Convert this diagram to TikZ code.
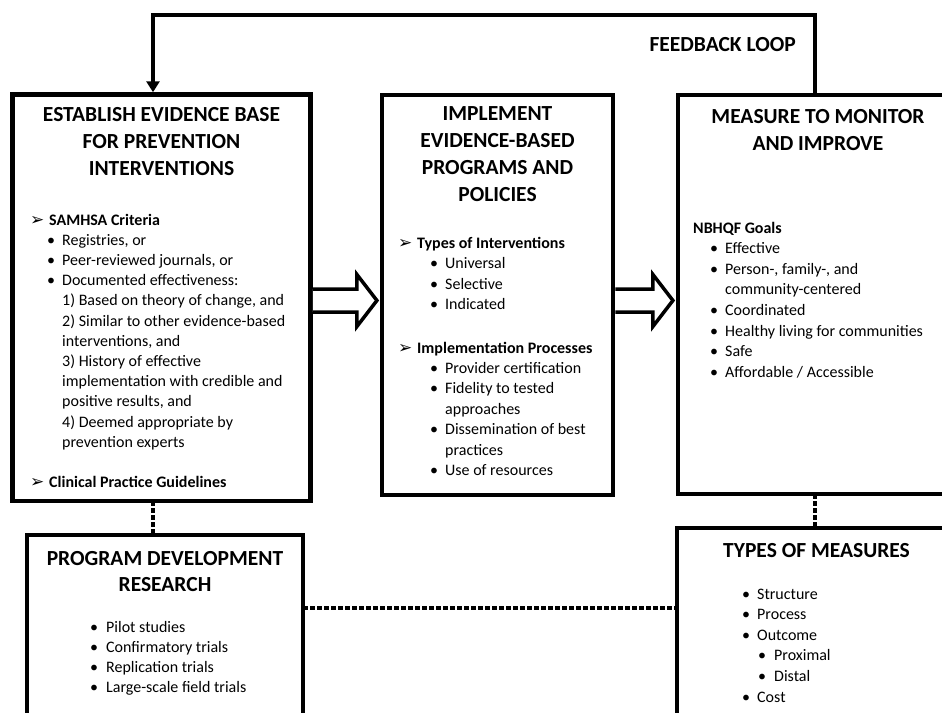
\documentclass[tikz,border=0pt]{standalone}
\usepackage{fontspec}
\setmainfont{Carlito}
\newfontfamily\dingfont{DejaVu Sans}
\usetikzlibrary{arrows.meta,calc}

% list helpers: indent, then a bullet in a box of given width
\newcommand\bul[2]{\hspace*{#1pt}\makebox[#2pt][l]{\textbullet}}
% arrowhead marker for section headings
\newcommand\mkr[1]{\makebox[#1pt][l]{\raisebox{-0.3pt}{\dingfont\fontsize{17}{17}\selectfont\symbol{"27A2}}}}

\begin{document}
\begin{tikzpicture}[x=1pt,y=-1pt,
  frame/.style={draw=black, line width=4.5pt, inner sep=0pt, outer sep=0pt, anchor=north west},
  heading/.style={anchor=base, align=center, inner sep=0pt, font=\fontsize{21.5}{27}\selectfont\bfseries},
  bodytext/.style={anchor=base west, align=left, inner sep=0pt, font=\fontsize{16}{20.4}\selectfont},
  feedback/.style={draw=black, line width=4pt, line join=miter, -{Triangle[width=13pt,length=11pt]}},
  dotlink/.style={draw=black, line width=4pt, dash pattern=on 4.5pt off 2.5pt},
  hollowarrow/.style={draw=black, fill=white, line width=3.5pt, line join=miter}]

\clip (0,0) rectangle (942,712);
\fill[white] (0,0) rectangle (942,712);

% reference points for the feedback loop and the link row
\coordinate (fbL) at (153,15);
\coordinate (fbR) at (815,15);
\coordinate (midrow) at (0,608);
\coordinate (arrowrow) at (0,300.5);

% the five frames
\node[frame, minimum width=298pt, minimum height=406.5pt] (evid) at (12.5,94.5) {};
\node[frame, minimum width=231pt, minimum height=400pt] (impl) at (382,95) {};
\node[frame, minimum width=280pt, minimum height=399pt] (measure) at (678,95) {};
\node[frame, minimum width=276pt, minimum height=210pt] (devres) at (27,535) {};
\node[frame, minimum width=279pt, minimum height=215pt] (types) at (677,528) {};

% hollow block arrows between the top frames
\coordinate (a1s) at ($(evid.east |- arrowrow)+(2.25,0)$);
\coordinate (a1e) at ($(impl.west |- arrowrow)+(-5.1,0)$);
\filldraw[hollowarrow] ($(a1s)+(0,-11.5)$) -- ($(a1e)+(-20,-11.5)$) -- ($(a1e)+(-20,-26)$)
  -- (a1e) -- ($(a1e)+(-20,26)$) -- ($(a1e)+(-20,11.5)$) -- ($(a1s)+(0,11.5)$);
\coordinate (a2s) at ($(impl.east |- arrowrow)+(2.25,0)$);
\coordinate (a2e) at ($(measure.west |- arrowrow)+(-5.1,0)$);
\filldraw[hollowarrow] ($(a2s)+(0,-11.5)$) -- ($(a2e)+(-20,-11.5)$) -- ($(a2e)+(-20,-26)$)
  -- (a2e) -- ($(a2e)+(-20,26)$) -- ($(a2e)+(-20,11.5)$) -- ($(a2s)+(0,11.5)$);

% feedback loop
\draw[feedback] (fbR |- measure.north) -- (fbR) -- (fbL) -- ($(fbL |- evid.north)+(0,-2.25)$);
\node[heading, anchor=base east] (fblabel) at (796,51) {FEEDBACK LOOP};

% dotted links
\draw[dotlink] (fbL |- evid.south) -- (fbL |- devres.north);
\draw[dotlink] (fbR |- measure.south) -- (fbR |- types.north);
\draw[dotlink] (devres.east |- midrow) -- (types.west |- midrow);

% (multi-line nodes sit on the baseline of their last line)

% establish evidence base
\node[heading] (evidT) at (evid.north |- 0,175) {ESTABLISH EVIDENCE BASE\\FOR PREVENTION\\INTERVENTIONS};
\node[bodytext, font=\fontsize{16}{20.2}\selectfont] (evidA) at (30,447.2) {\mkr{19}\textbf{SAMHSA Criteria}\\
\bul{17}{15}Registries, or\\
\bul{17}{15}Peer-reviewed journals, or\\
\bul{17}{15}Documented effectiveness:\\
\hspace*{32pt}1) Based on theory of change, and\\
\hspace*{32pt}2) Similar to other evidence-based\\
\hspace*{32pt}interventions, and\\
\hspace*{32pt}3) History of effective\\
\hspace*{32pt}implementation with credible and\\
\hspace*{32pt}positive results, and\\
\hspace*{32pt}4) Deemed appropriate by\\
\hspace*{32pt}prevention experts};
\node[bodytext] (evidB) at (30,487.5) {\mkr{19}\textbf{Clinical Practice Guidelines}};

% implement programs and policies
\node[heading] (implT) at (impl.north |- 0,201) {IMPLEMENT\\EVIDENCE-BASED\\PROGRAMS AND\\POLICIES};
\node[bodytext, font=\fontsize{16}{20.6}\selectfont] (implA) at (398,309.8) {\mkr{19}\textbf{Types of Interventions}\\
\bul{32}{15}Universal\\
\bul{32}{15}Selective\\
\bul{32}{15}Indicated};
\node[bodytext] (implB) at (398,475.4) {\mkr{19}\textbf{Implementation Processes}\\
\bul{32}{15}Provider certification\\
\bul{32}{15}Fidelity to tested\\
\hspace*{47pt}approaches\\
\bul{32}{15}Dissemination of best\\
\hspace*{47pt}practices\\
\bul{32}{15}Use of resources};

% measure to monitor and improve
\node[heading] (measT) at (measure.north |- 0,150) {MEASURE TO MONITOR\\AND IMPROVE};
\node[bodytext, font=\fontsize{16}{20.6}\selectfont] (measA) at (693,377.2) {\textbf{NBHQF Goals}\\
\bul{17}{15}Effective\\
\bul{17}{15}Person-, family-, and\\
\hspace*{32pt}community-centered\\
\bul{17}{15}Coordinated\\
\bul{17}{15}Healthy living for communities\\
\bul{17}{15}Safe\\
\bul{17}{15}Affordable / Accessible};

% program development research
\node[heading, font=\fontsize{21.5}{26}\selectfont\bfseries] (devT) at (devres.north |- 0,591) {PROGRAM DEVELOPMENT\\RESEARCH};
\node[bodytext, font=\fontsize{16}{20.3}\selectfont] (devA) at (90,692.9) {\bul{0}{16}Pilot studies\\
\bul{0}{16}Confirmatory trials\\
\bul{0}{16}Replication trials\\
\bul{0}{16}Large-scale field trials};

% types of measures
\node[heading] (typesT) at (types.north |- 0,557) {TYPES OF MEASURES};
\node[bodytext, font=\fontsize{16}{20.6}\selectfont] (typesA) at (742,702) {\bul{0}{15}Structure\\
\bul{0}{15}Process\\
\bul{0}{15}Outcome\\
\bul{16}{16}Proximal\\
\bul{16}{16}Distal\\
\bul{0}{15}Cost};
\end{tikzpicture}
\end{document}
